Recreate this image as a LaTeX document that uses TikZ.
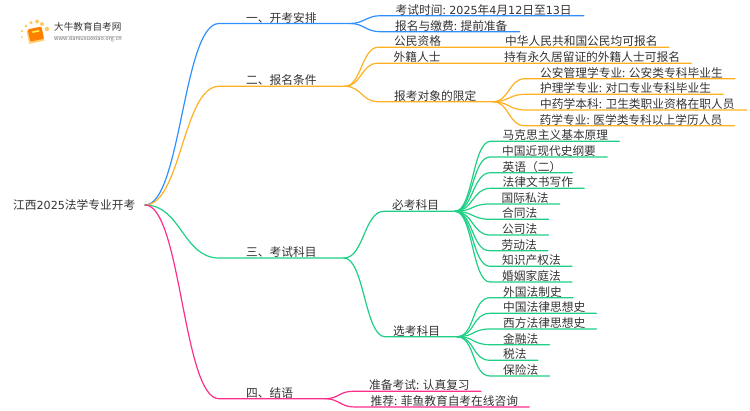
\documentclass[tikz,border=0pt]{standalone}
\usepackage{fontspec}
\setmainfont{Noto Sans CJK SC}
\newfontfamily\digitfont[Scale=0.95]{DejaVu Sans}
\definecolor{BlueLine}{HTML}{2F8FFF}
\definecolor{OrangeLine}{HTML}{FFB020}
\definecolor{GreenLine}{HTML}{1FCF85}
\definecolor{PinkLine}{HTML}{FF2D8A}
\definecolor{TextGray}{HTML}{333333}
\tikzset{item/.style={anchor=south west,inner sep=0,text=TextGray,font=\fontsize{11.72}{12}\selectfont,text height=10,text depth=1.2}}
\tikzset{wire/.style={line width=1.2,line cap=round}}
\tikzset{dotlogo/.style={shape=circle,fill=OrangeLine!70,inner sep=0}}

\begin{document}
\begin{tikzpicture}[x=1pt, y=-1pt]
    \useasboundingbox (0, 0) rectangle (750, 410);

    % logo
    \node [dotlogo, minimum size=2] (d1) at (22, 37) {};
    \node [dotlogo, minimum size=2.5] (d2) at (22, 31) {};
    \node [dotlogo, minimum size=3] (d3) at (26, 26) {};
    \node [dotlogo, minimum size=3.5] (d4) at (31, 22.5) {};
    \node [dotlogo, minimum size=4] (d5) at (37, 21.5) {};
    \node [dotlogo, minimum size=4] (d6) at (42, 24) {};
    \node [dotlogo, minimum size=4.5] (d7) at (47, 29) {};
    \fill [OrangeLine!60!white, rotate around={12:(35, 35)}] (27.5, 29) rectangle (43, 42.5);
    \fill [orange, rounded corners=1, rotate around={12:(35, 35)}] (29, 28) rectangle (43, 40.5);
    \fill [yellow!70!white, rotate around={12:(35, 35)}] (33, 31) rectangle (40, 32.5);
    \node [inner sep=0, anchor=west, text=TextGray, font=\fontsize{9.6}{10}\selectfont] (logotitle) at (54, 27) {大牛教育自考网};
    \node [inner sep=0, anchor=west, text=black!55, font=\fontsize{5.6}{6}\selectfont] (logourl) at (54, 39) {www.daniuxuexiao.org.cn};
    \draw [black!20, line width=0.5] (logourl.north west) -- (logourl.north east);

    % root
    \node [inner sep=0, anchor=west, text=TextGray, font=\fontsize{11.72}{12}\selectfont] (root) at (13, 205) {江西{\digitfont 2025}法学专业开考};
    \coordinate (r0) at (145, 205);

    % branch one
    \coordinate (f1) at (350, 23.5);
    \node [item] (h1) at (246, 23.5) {一、开考安排};
    \node [item] (a1) at (395.5, 15.7) {考试时间: {\digitfont 2025}年{\digitfont 4}月{\digitfont 12}日至{\digitfont 13}日};
    \node [item] (a2) at (395, 31.7) {报名与缴费: 提前准备};
    \draw [wire, BlueLine] (r0) to [out=0,in=180,distance=36] ([xshift=-27]h1.south west) -- (f1);
    \draw [wire, BlueLine] (f1) to [out=0,in=180,distance=14] ([xshift=-15]a1.south west) -- ([xshift=12]a1.south east);
    \draw [wire, BlueLine] (f1) to [out=0,in=180,distance=14] ([xshift=-15]a2.south west) -- ([xshift=12]a2.south east);

    % branch two
    \coordinate (f2) at (345, 86.3);
    \node [item] (h2) at (246, 86.3) {二、报名条件};
    \node [item] (b1) at (394, 47.3) {公民资格};
    \node [item] (b1t) at (505, 47.3) {中华人民共和国公民均可报名};
    \node [item] (b2) at (393.5, 63.3) {外籍人士};
    \node [item] (b2t) at (504, 63.3) {持有永久居留证的外籍人士可报名};
    \node [item] (b3) at (394, 101.7) {报考对象的限定};
    \coordinate (f3) at (493, 101.7);
    \node [item] (c1) at (540, 78.7) {公安管理学专业: 公安类专科毕业生};
    \node [item] (c2) at (540, 94.3) {护理学专业: 对口专业专科毕业生};
    \node [item] (c3) at (540, 110) {中药学本科: 卫生类职业资格在职人员};
    \node [item] (c4) at (539.5, 125.7) {药学专业: 医学类专科以上学历人员};
    \draw [wire, OrangeLine] (r0) to [out=0,in=180,distance=36] ([xshift=-27]h2.south west) -- (f2);
    \draw [wire, OrangeLine] (f2) to [out=0,in=180,distance=16] ([xshift=-16]b1.south west) -- ([xshift=11]b1t.south east);
    \draw [wire, OrangeLine] (f2) to [out=0,in=180,distance=16] ([xshift=-16]b2.south west) -- ([xshift=11]b2t.south east);
    \draw [wire, OrangeLine] (f2) to [out=0,in=180,distance=16] ([xshift=-16]b3.south west) -- (f3);
    \draw [wire, OrangeLine] (f3) to [out=0,in=180,distance=16] ([xshift=-15]c1.south west) -- ([xshift=12]c1.south east);
    \draw [wire, OrangeLine] (f3) to [out=0,in=180,distance=16] ([xshift=-15]c2.south west) -- ([xshift=12]c2.south east);
    \draw [wire, OrangeLine] (f3) to [out=0,in=180,distance=16] ([xshift=-15]c3.south west) -- ([xshift=12]c3.south east);
    \draw [wire, OrangeLine] (f3) to [out=0,in=180,distance=16] ([xshift=-15]c4.south west) -- ([xshift=12]c4.south east);

    % branch three
    \coordinate (f4) at (344, 258);
    \node [item] (h3) at (246, 258) {三、考试科目};
    \node [item] (e1) at (392, 211.3) {必考科目};
    \node [item] (e2) at (393, 336.7) {选考科目};
    \coordinate (f5) at (455, 211.3);
    \coordinate (f6) at (457, 336.7);
    \node [item] (g1) at (502.5, 141.3) {马克思主义基本原理};
    \node [item] (g2) at (502, 157) {中国近现代史纲要};
    \node [item] (g3) at (502.5, 172.7) {英语（二）};
    \node [item] (g4) at (502.5, 188.3) {法律文书写作};
    \node [item] (g5) at (501.5, 204) {国际私法};
    \node [item] (g6) at (502, 219.3) {合同法};
    \node [item] (g7) at (502, 235) {公司法};
    \node [item] (g8) at (501.5, 250.7) {劳动法};
    \node [item] (g9) at (502, 266.3) {知识产权法};
    \node [item] (g10) at (502, 282) {婚姻家庭法};
    \node [item] (k1) at (503, 297.7) {外国法制史};
    \node [item] (k2) at (503, 313.3) {中国法律思想史};
    \node [item] (k3) at (503, 329) {西方法律思想史};
    \node [item] (k4) at (503, 344.7) {金融法};
    \node [item] (k5) at (503, 360.3) {税法};
    \node [item] (k6) at (503, 376) {保险法};
    \draw [wire, GreenLine] (r0) to [out=0,in=180,distance=36] ([xshift=-27]h3.south west) -- (f4);
    \draw [wire, GreenLine] (f4) to [out=0,in=180,distance=20] ([xshift=-8]e1.south west) -- (f5);
    \draw [wire, GreenLine] (f4) to [out=0,in=180,distance=20] ([xshift=-8]e2.south west) -- (f6);
    \draw [wire, GreenLine] (f5) to [out=0,in=180,distance=18] ([xshift=-12]g1.south west) -- ([xshift=11]g1.south east);
    \draw [wire, GreenLine] (f5) to [out=0,in=180,distance=18] ([xshift=-12]g2.south west) -- ([xshift=11]g2.south east);
    \draw [wire, GreenLine] (f5) to [out=0,in=180,distance=18] ([xshift=-12]g3.south west) -- ([xshift=11]g3.south east);
    \draw [wire, GreenLine] (f5) to [out=0,in=180,distance=18] ([xshift=-12]g4.south west) -- ([xshift=11]g4.south east);
    \draw [wire, GreenLine] (f5) to [out=0,in=180,distance=18] ([xshift=-12]g5.south west) -- ([xshift=11]g5.south east);
    \draw [wire, GreenLine] (f5) to [out=0,in=180,distance=18] ([xshift=-12]g6.south west) -- ([xshift=11]g6.south east);
    \draw [wire, GreenLine] (f5) to [out=0,in=180,distance=18] ([xshift=-12]g7.south west) -- ([xshift=11]g7.south east);
    \draw [wire, GreenLine] (f5) to [out=0,in=180,distance=18] ([xshift=-12]g8.south west) -- ([xshift=11]g8.south east);
    \draw [wire, GreenLine] (f5) to [out=0,in=180,distance=18] ([xshift=-12]g9.south west) -- ([xshift=11]g9.south east);
    \draw [wire, GreenLine] (f5) to [out=0,in=180,distance=18] ([xshift=-12]g10.south west) -- ([xshift=11]g10.south east);
    \draw [wire, GreenLine] (f6) to [out=0,in=180,distance=18] ([xshift=-13]k1.south west) -- ([xshift=11]k1.south east);
    \draw [wire, GreenLine] (f6) to [out=0,in=180,distance=18] ([xshift=-13]k2.south west) -- ([xshift=11]k2.south east);
    \draw [wire, GreenLine] (f6) to [out=0,in=180,distance=18] ([xshift=-13]k3.south west) -- ([xshift=11]k3.south east);
    \draw [wire, GreenLine] (f6) to [out=0,in=180,distance=18] ([xshift=-13]k4.south west) -- ([xshift=11]k4.south east);
    \draw [wire, GreenLine] (f6) to [out=0,in=180,distance=18] ([xshift=-13]k5.south west) -- ([xshift=11]k5.south east);
    \draw [wire, GreenLine] (f6) to [out=0,in=180,distance=18] ([xshift=-13]k6.south west) -- ([xshift=11]k6.south east);

    % branch four
    \coordinate (f7) at (325, 398.7);
    \node [item] (h4) at (246, 398.7) {四、结语};
    \node [item] (m1) at (369, 391.3) {准备考试: 认真复习};
    \node [item] (m2) at (370.5, 407) {推荐: 菲鱼教育自考在线咨询};
    \draw [wire, PinkLine] (r0) to [out=0,in=180,distance=36] ([xshift=-27]h4.south west) -- (f7);
    \draw [wire, PinkLine] (f7) to [out=0,in=180,distance=14] ([xshift=-16]m1.south west) -- ([xshift=11]m1.south east);
    \draw [wire, PinkLine] (f7) to [out=0,in=180,distance=14] ([xshift=-16]m2.south west) -- ([xshift=11]m2.south east);
\end{tikzpicture}
\end{document}
